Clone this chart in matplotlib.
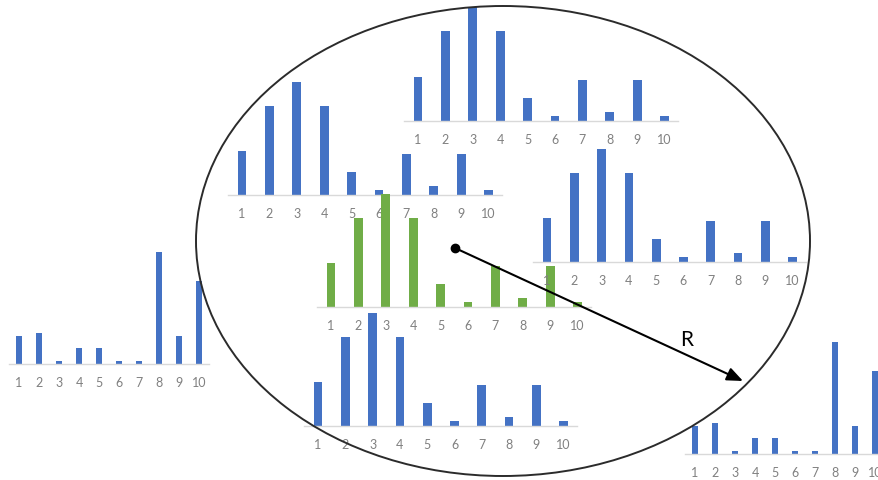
import matplotlib.pyplot as plt
from matplotlib.patches import Ellipse

W, H = 879, 481

categories = [1, 2, 3, 4, 5, 6, 7, 8, 9, 10]
tick_labels = [str(c) for c in categories]

# profile of the distributions inside the circle
inner_values = [3.9, 7.9, 10.0, 7.9, 2.0, 0.45, 3.6, 0.8, 3.6, 0.45]
# profile of the distributions outside the circle
outer_values = [2.5, 2.8, 0.3, 1.4, 1.4, 0.3, 0.3, 10.0, 2.5, 7.4]

BLUE = "#4472C4"
GREEN = "#70AD47"

# (x of first bar, baseline y, bar spacing, bar height px, colour, values) in pixels
charts = [
    (418, 122, 27.4, 114, BLUE, inner_values),
    (242, 196, 27.4, 113, BLUE, inner_values),
    (331, 308, 27.4, 113, GREEN, inner_values),
    (547, 263, 27.3, 113, BLUE, inner_values),
    (318, 427, 27.3, 113, BLUE, inner_values),
    (19, 365, 20.0, 112, BLUE, outer_values),
    (695, 455, 20.0, 112, BLUE, outer_values),
]

plt.rcParams['font.family'] = ['Lato', 'DejaVu Sans']
fig = plt.figure(figsize=(W / 100, H / 100), dpi=100)


def mini_chart(x1, base, step, h, color, values, z):
    left = (x1 - step / 2) / W
    bottom = 1 - base / H
    ax = fig.add_axes([left, bottom, 10 * step / W, h / H], zorder=z)
    ax.patch.set_visible(False)
    ax.bar(categories, values, width=0.32, color=color, clip_on=False)
    ax.set_xlim(0.5, 10.5)
    ax.set_ylim(0, 10)
    for s in ['top', 'right', 'left']:
        ax.spines[s].set_visible(False)
    ax.spines['bottom'].set_color('#d9d9d9')
    ax.spines['bottom'].set_linewidth(1.0)
    ax.set_yticks([])
    ax.set_xticks(categories)
    ax.set_xticklabels(tick_labels, fontsize=9, color='#808080')
    ax.tick_params(axis='x', length=0, pad=8.5)
    return ax


for i, (x1, base, step, h, color, values) in enumerate(charts):
    mini_chart(x1, base, step, h, color, values, i + 1)

# overlay with the circle and the radius arrow
ov = fig.add_axes([0, 0, 1, 1], zorder=20)
ov.set_xlim(0, W)
ov.set_ylim(H, 0)
ov.axis('off')
ov.patch.set_visible(False)

ov.add_patch(Ellipse((503, 242), 614, 470, fill=False, edgecolor='#2b2b2b', lw=1.4))
ov.annotate('', xy=(743, 382), xytext=(455, 249),
            arrowprops=dict(arrowstyle='-|>,head_length=0.6,head_width=0.25',
                            color='black', lw=1.5,
                            mutation_scale=16, shrinkA=0, shrinkB=0))
ov.plot([455], [249], 'o', color='black', markersize=6)
ov.text(687, 340, 'R', fontsize=15, color='black', ha='center', va='center')

fig.savefig('out.png', dpi=100)
